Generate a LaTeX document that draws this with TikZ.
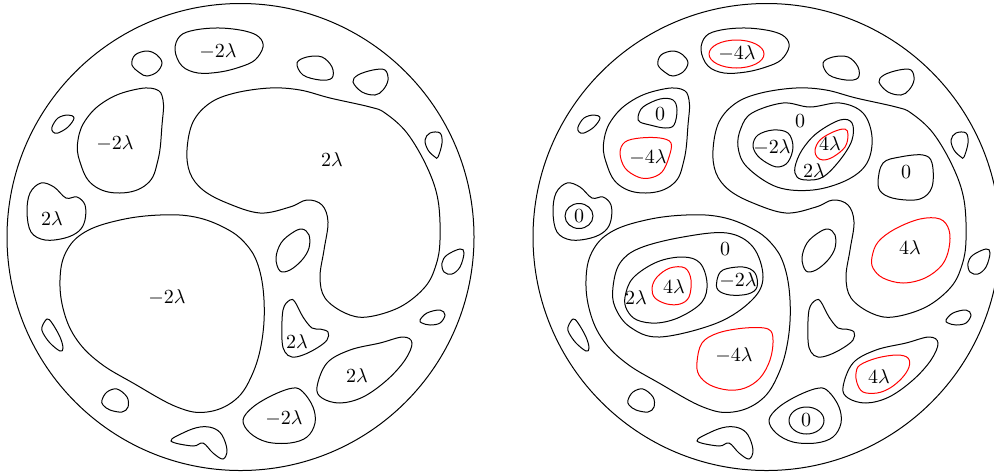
\documentclass[tikz,border=0pt]{standalone}
\begin{document}
\begin{tikzpicture}[x=0.5pt,y=-0.5pt,line width=0.5pt,
  lab/.style={inner sep=0pt}]
\useasboundingbox (0,0) rectangle (994,472);
\clip (0,0) rectangle (994,472);
\newcommand\OuterBlobs{%
  % A
  \draw plot[smooth cycle,tension=0.6] coordinates {(175,50)(180,36)(195,30)(220,28)(245,31)(259,37)(263,47)(255,60)(240,67)(220,72)(198,73)(182,66)};
  % B
  \draw plot[smooth cycle,tension=0.6] coordinates {(132,65)(135,55)(147,51)(157,55)(162,63)(157,72)(147,76)(140,73)};
  % C
  \draw plot[smooth cycle,tension=0.6] coordinates {(52,127)(58,118)(68,115)(74,118)(68,127)(58,133)(53,132)};
  % D
  \draw plot[smooth cycle,tension=0.7] coordinates {(78,140)(87,118)(107,100)(133,90)(155,89)(163,100)(162,125)(158,160)(147,184)(120,193)(93,185)(80,162)};
  % E
  \draw plot[smooth cycle,tension=0.6] coordinates {(27,212)(30,193)(41,183)(54,187)(66,198)(77,197)(85,205)(85,220)(79,231)(65,238)(45,240)(31,232)};
  % F
  \draw plot[smooth cycle,tension=0.6] coordinates {(187,150)(193,122)(210,103)(235,93)(270,88)(300,90)(330,98)(370,107)(385,113)(407,133)(427,167)(438,200)(440,240)(436,265)(425,287)(400,307)(367,317)(345,313)(325,298)(320,277)(324,250)(328,222)(322,205)(307,200)(290,207)(260,213)(227,203)(203,190)(190,173)};
  % G
  \draw plot[smooth cycle,tension=0.65] coordinates {(60,280)(64,312)(77,340)(100,363)(133,383)(177,407)(207,412)(235,400)(252,375)(262,340)(264,300)(258,265)(245,243)(225,228)(195,217)(160,215)(120,220)(85,232)(66,252)};
  % H
  \draw plot[smooth cycle,tension=0.6] coordinates {(276,258)(281,243)(292,233)(302,229)(309,235)(309,248)(302,260)(290,270)(280,271)};
  % I
  \draw plot[smooth cycle,tension=0.6] coordinates {(282,340)(283,310)(290,300)(295,302)(303,317)(312,328)(320,329)(328,332)(327,340)(317,348)(303,355)(292,357)(285,352)};
  % J
  \draw plot[smooth cycle,tension=0.6] coordinates {(317,387)(327,363)(350,350)(380,343)(403,337)(412,343)(405,360)(387,380)(363,397)(340,403)(322,398)};
  % K
  \draw plot[smooth cycle,tension=0.6] coordinates {(243,420)(253,407)(273,395)(293,388)(303,392)(313,407)(315,423)(307,437)(290,443)(267,442)(250,433)};
  % L
  \draw plot[smooth cycle,tension=0.6] coordinates {(442,263)(447,255)(460,249)(464,253)(460,267)(452,274)(444,272)};
  % M
  \draw plot[smooth cycle,tension=0.6] coordinates {(420,320)(427,313)(440,310)(445,315)(440,323)(430,325)(422,323)};
  % N
  \draw plot[smooth cycle,tension=0.6] coordinates {(425,140)(430,133)(440,133)(442,143)(438,157)(435,157)(428,150)};
  % O
  \draw plot[smooth cycle,tension=0.6] coordinates {(297,63)(307,57)(322,57)(332,67)(332,78)(320,80)(303,75)};
  % P
  \draw plot[smooth cycle,tension=0.6] coordinates {(353,82)(358,75)(373,70)(385,70)(388,80)(383,90)(375,95)(362,92)};
  % Q
  \draw plot[smooth cycle,tension=0.6] coordinates {(42,327)(47,319)(52,323)(60,337)(63,348)(60,351)(50,343)(43,333)};
  % R
  \draw plot[smooth cycle,tension=0.6] coordinates {(102,400)(107,392)(117,389)(127,397)(128,407)(122,412)(110,410)(103,405)};
  % S
  \draw plot[smooth cycle,tension=0.6] coordinates {(171,441)(185,432)(200,427)(213,428)(222,435)(227,450)(223,459)(213,453)(203,443)(193,446)};
}
% ---------------- left picture
\draw (240.5,237) circle[radius=116.75pt];
\OuterBlobs
\node[lab] (la) at (218,51) {$-2\lambda$};
\node[lab] (ld) at (115,143) {$-2\lambda$};
\node[lab] (le) at (52,219) {$2\lambda$};
\node[lab] (lf) at (332,160) {$2\lambda$};
\node[lab] (lg) at (167,297) {$-2\lambda$};
\node[lab] (li) at (297,342) {$2\lambda$};
\node[lab] (lj) at (357,376) {$2\lambda$};
\node[lab] (lk) at (284,418) {$-2\lambda$};
% ---------------- right picture
\draw (766.5,237) circle[radius=116.75pt];
\begin{scope}[xshift=263pt]
\OuterBlobs
\end{scope}
% inner contours (absolute)
\draw[red] (736.5,54) ellipse[x radius=27.5, y radius=14];
\draw plot[smooth cycle,tension=0.6] coordinates {(638,117)(643,107)(660,99)(673,100)(677,110)(674,125)(665,128)(650,125)(640,122)};
\draw[red] plot[smooth cycle,tension=0.6] coordinates {(620,153)(625,142)(640,138)(660,138)(671,143)(669,157)(662,172)(650,178)(638,177)(625,168)};
\draw (579,216) ellipse[x radius=14, y radius=12.5];
\draw plot[smooth cycle,tension=0.6] coordinates {(738,147)(741,128)(752,113)(783,103)(810,107)(840,103)(863,113)(872,137)(867,163)(847,180)(813,190)(777,187)(747,167)};
\draw plot[smooth cycle,tension=0.6] coordinates {(753,145)(758,135)(773,130)(788,133)(793,147)(788,162)(778,167)(767,163)(757,155)};
\draw plot[smooth cycle,tension=0.6] coordinates {(795,167)(802,150)(817,133)(840,120)(852,123)(852,140)(840,160)(823,177)(807,180)(797,177)};
\draw[red] plot[smooth cycle,tension=0.6] coordinates {(815,150)(820,140)(833,132)(845,129)(848,135)(845,147)(833,157)(823,160)(817,157)};
\draw plot[smooth cycle,tension=0.6] coordinates {(878,182)(883,163)(900,157)(923,155)(932,163)(932,187)(920,199)(897,199)(882,193)};
\draw[red] plot[smooth cycle,tension=0.6] coordinates {(872,257)(878,242)(895,229)(920,219)(940,219)(949,230)(949,248)(942,265)(925,278)(903,283)(883,278)(873,268)};
\draw plot[smooth cycle,tension=0.6] coordinates {(613,287)(620,263)(640,248)(683,237)(727,233)(753,247)(763,277)(752,300)(717,323)(660,337)(630,327)(615,307)};
\draw plot[smooth cycle,tension=0.6] coordinates {(625,297)(633,278)(657,262)(683,257)(700,263)(707,283)(702,302)(680,317)(657,323)(637,320)(627,310)};
\draw[red] plot[smooth cycle,tension=0.6] coordinates {(652,288)(657,277)(670,268)(685,268)(691,280)(689,297)(680,304)(667,304)(655,298)};
\draw plot[smooth cycle,tension=0.6] coordinates {(717,280)(723,270)(743,267)(755,273)(757,287)(748,294)(730,295)(718,290)};
\draw[red] plot[smooth cycle,tension=0.6] coordinates {(697,362)(702,343)(718,333)(745,328)(768,329)(773,340)(770,360)(760,378)(745,388)(728,390)(710,385)(699,375)};
\draw[red] plot[smooth cycle,tension=0.6] coordinates {(856,373)(860,365)(877,358)(897,355)(908,358)(909,367)(902,378)(890,388)(877,393)(863,392)(857,383)};
\draw (806.5,420.5) ellipse[x radius=17.5, y radius=13.5];
% right labels
\node[lab] (ra) at (737,53) {$-4\lambda$};
\node[lab] (rd0) at (660,114) {$0$};
\node[lab] (rd4) at (648,157) {$-4\lambda$};
\node[lab] (re) at (579,216) {$0$};
\node[lab] (rf0) at (800,121) {$0$};
\node[lab] (rf2m) at (772,147) {$-2\lambda$};
\node[lab] (rf4) at (830,144) {$4\lambda$};
\node[lab] (rf2) at (814,171) {$2\lambda$};
\node[lab] (rz) at (906,172) {$0$};
\node[lab] (r4) at (910,248) {$4\lambda$};
\node[lab] (rg0) at (725,249) {$0$};
\node[lab] (rg2) at (636,298) {$2\lambda$};
\node[lab] (rg4) at (674,287) {$4\lambda$};
\node[lab] (rg2m) at (738,280) {$-2\lambda$};
\node[lab] (rm4) at (734,355) {$-4\lambda$};
\node[lab] (rj) at (879,377) {$4\lambda$};
\node[lab] (rk) at (806,420) {$0$};
\end{tikzpicture}
\end{document}
